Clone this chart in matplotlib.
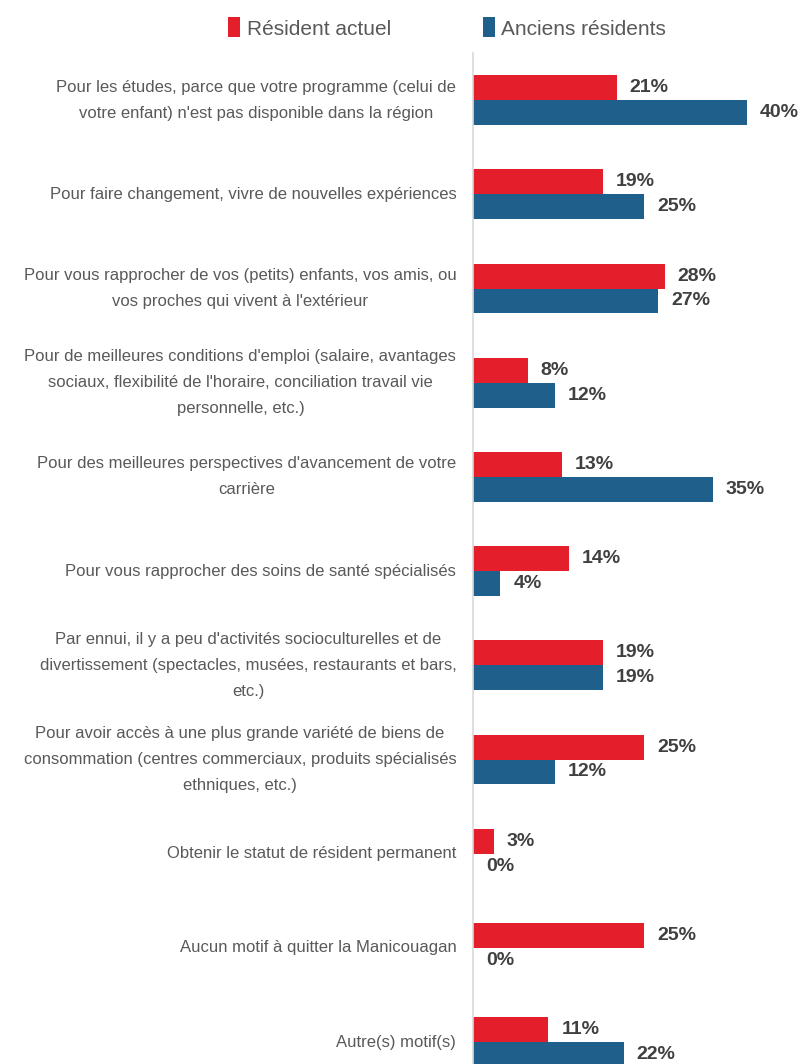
import matplotlib
matplotlib.use("Agg")
import matplotlib.pyplot as plt
import numpy as np

categories = [
    "Pour les études, parce que votre programme (celui de\nvotre enfant) n'est pas disponible dans la région",
    "Pour faire changement, vivre de nouvelles expériences",
    "Pour vous rapprocher de vos (petits) enfants, vos amis, ou\nvos proches qui vivent à l'extérieur",
    "Pour de meilleures conditions d'emploi (salaire, avantages\nsociaux, flexibilité de l'horaire, conciliation travail vie\npersonnelle, etc.)",
    "Pour des meilleures perspectives d'avancement de votre\ncarrière",
    "Pour vous rapprocher des soins de santé spécialisés",
    "Par ennui, il y a peu d'activités socioculturelles et de\ndivertissement (spectacles, musées, restaurants et bars,\netc.)",
    "Pour avoir accès à une plus grande variété de biens de\nconsommation (centres commerciaux, produits spécialisés\nethniques, etc.)",
    "Obtenir le statut de résident permanent",
    "Aucun motif à quitter la Manicouagan",
    "Autre(s) motif(s)",
]
resident_actuel = [21, 19, 28, 8, 13, 14, 19, 25, 3, 25, 11]
anciens_residents = [40, 25, 27, 12, 35, 4, 19, 12, 0, 0, 22]
series_names = ["Résident actuel", "Anciens résidents"]

RED = "#E41E2B"
BLUE = "#1F5F8B"
FONT = ["Liberation Sans", "DejaVu Sans"]

W, H = 803, 1064
fig = plt.figure(figsize=(W / 100, H / 100), dpi=100)
ax_left = 473 / W
ax_top = 1 - 53 / H
ax = fig.add_axes([ax_left, 0.0, 1 - ax_left, ax_top])

row_px = 94.2
n_vis = (ax_top * H) / row_px
px_per_pct = 6.85
xmax = (W - 473) / px_per_pct

y = np.arange(len(categories))
bh = 0.265
b1 = ax.barh(y - bh / 2, resident_actuel, height=bh, color=RED, label=series_names[0])
b2 = ax.barh(y + bh / 2, anciens_residents, height=bh, color=BLUE, label=series_names[1])

ax.set_xlim(0, xmax)
ax.set_ylim(-0.5 + n_vis, -0.5)

off = 13 / px_per_pct
for bars, vals in ((b1, resident_actuel), (b2, anciens_residents)):
    for rect, v in zip(bars, vals):
        ax.text(v + off, rect.get_y() + rect.get_height() / 2, f"{v}%",
                ha="left", va="center", fontsize=14, fontweight="bold",
                color="#404040", family=FONT)

ax.set_yticks(y)
ax.set_yticklabels([])
ax.tick_params(axis="y", length=0, pad=0)
for yi, cat in zip(y, categories):
    ax.annotate(cat, xy=(0, yi), xycoords=("axes fraction", "data"),
                xytext=(-12, 0), textcoords="offset points",
                ha="right", va="center", multialignment="center",
                fontsize=12, color="#595959", family=FONT, linespacing=1.93,
                annotation_clip=False)

ax.set_xticks([])
for s in ("top", "right", "bottom"):
    ax.spines[s].set_visible(False)
ax.spines["left"].set_color("#D9D9D9")
ax.spines["left"].set_linewidth(1.2)

fig.legend(handles=[b1, b2], labels=series_names, loc="center",
           bbox_to_anchor=(447 / W, 1 - 28 / H), ncol=2, frameon=False,
           handlelength=0.6, handleheight=1.1, handletextpad=0.3,
           columnspacing=4.4, prop={"family": FONT, "size": 15},
           labelcolor="#595959")

fig.savefig("out.png", dpi=100)
